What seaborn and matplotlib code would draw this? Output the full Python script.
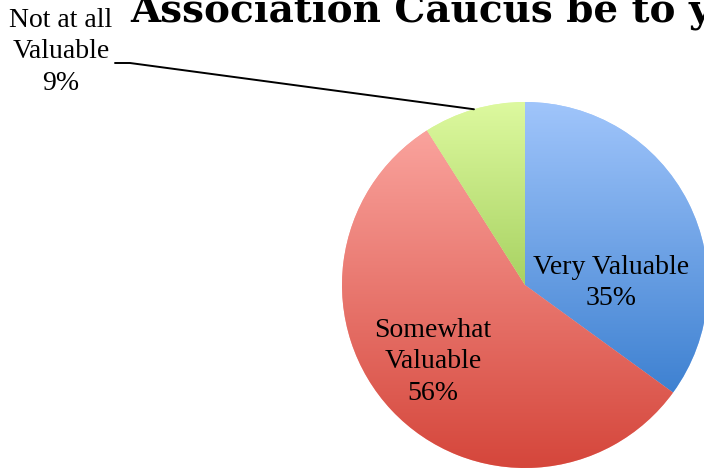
import numpy as np
import matplotlib
matplotlib.use("Agg")
import matplotlib.pyplot as plt
import seaborn as sns

categories = ["Very Valuable", "Somewhat Valuable", "Not at all Valuable"]
values = [35, 56, 9]
label_texts = ["Very Valuable\n35%", "Somewhat\nValuable\n56%", "Not at all\nValuable\n9%"]
top_colors = ["#A0C5FB", "#FAA39D", "#DDF99F"]
bottom_colors = ["#3E81D1", "#D5463B", "#A8D262"]
title = "Association Caucus be to you?"

sns.set_theme(style="white")
plt.rcParams['font.family'] = ['Liberation Serif', 'DejaVu Serif']

W, H = 704, 470
fig = plt.figure(figsize=(7.04, 4.70), dpi=100)
ax = fig.add_axes([0, 0, 1, 1])
cx, cy, r = 525, H - 285, 183
wedges, _ = ax.pie(values, startangle=90, counterclock=False, center=(cx, cy),
                   radius=r, frame=True, colors=top_colors,
                   wedgeprops=dict(linewidth=0))
ax.set_xlim(0, W)
ax.set_ylim(0, H)
ax.set_aspect('equal')
ax.axis('off')

for w, c0, c1 in zip(wedges, top_colors, bottom_colors):
    bb = w.get_path().get_extents()
    grad = sns.blend_palette([c0, c1], n_colors=256, as_cmap=False)
    arr = np.array(grad)[:, None, :]
    im = ax.imshow(arr, extent=[bb.x0, bb.x1, bb.y0, bb.y1], origin='upper',
                   aspect='auto', interpolation='bilinear', zorder=w.get_zorder() + 0.1)
    im.set_clip_path(w)

fs = 20
ls = 1.35
ax.text(611, H - 283, label_texts[0], ha='center', va='center', fontsize=fs,
        linespacing=ls, color='black', zorder=5)
ax.text(433, H - 362, label_texts[1], ha='center', va='center', fontsize=fs,
        linespacing=ls, color='black', zorder=5)
ax.text(61, H - 52, label_texts[2], ha='center', va='center', fontsize=fs,
        linespacing=ls, color='black', zorder=5)

g = wedges[2]
th = np.deg2rad((g.theta1 + g.theta2) / 2)
ex, ey = cx + r * np.cos(th), cy + r * np.sin(th)
ax.plot([115, 130, ex], [H - 63, H - 63, ey], color='black', lw=1.4, zorder=5)

ax.text(130, H - 21, title, ha='left', va='baseline', fontsize=28,
        fontweight='bold', color='black', family='DejaVu Serif')

fig.savefig("out.png", dpi=100)
